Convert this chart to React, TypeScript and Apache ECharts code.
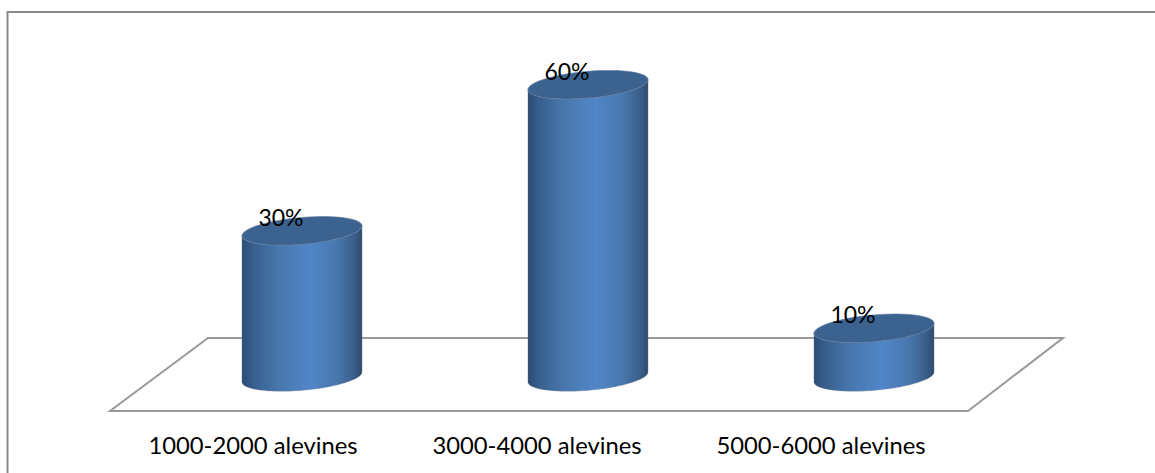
import React, { useEffect, useRef } from "react";
import * as echarts from "echarts";

const categories = ["1000-2000 alevines", "3000-4000 alevines", "5000-6000 alevines"];
const shares = [30, 60, 10];

const WIDTH = 1155;
const HEIGHT = 473;
const FONT = "Lato, 'Open Sans', sans-serif";

// Outline of a cylinder cap: an ellipse sheared so the right side sits higher.
const capPoint = (cx: number, cy: number, a: number, b: number, t: number): number[] => {
  const dx = a * Math.cos(t);
  return [cx + dx, cy + b * Math.sin(t) - dx * 0.083];
};

const capArc = (cx: number, cy: number, a: number, from: number, to: number): number[][] => {
  const b = 13.4;
  const pts: number[][] = [];
  for (let i = 0; i <= 60; i++) {
    pts.push(capPoint(cx, cy, a, b, from + ((to - from) * i) / 60));
  }
  return pts;
};

const renderCylinder = (params: any, api: any) => {
  const value = api.value(1);
  const [cx, topY] = api.coord([api.value(0), value]);
  const [, baseY] = api.coord([api.value(0), 0]);
  const a = api.size([1, 0])[0] * 0.21;

  const body = [
    ...capArc(cx, topY, a, Math.PI, 0),
    ...capArc(cx, baseY, a, 0, Math.PI),
  ];
  const top = capArc(cx, topY, a, 0, Math.PI * 2);

  return {
    type: "group",
    children: [
      {
        type: "polygon",
        shape: { points: body },
        style: {
          fill: new echarts.graphic.LinearGradient(0, 0, 1, 0, [
            { offset: 0, color: "#2c4c74" },
            { offset: 0.1, color: "#38608f" },
            { offset: 0.3, color: "#4877ad" },
            { offset: 0.57, color: "#5186c8" },
            { offset: 0.8, color: "#4776ab" },
            { offset: 0.93, color: "#3b5f8b" },
            { offset: 1, color: "#2e4a6e" },
          ]),
          stroke: "rgba(130,140,150,0.3)",
          lineWidth: 1,
        },
      },
      {
        type: "polygon",
        shape: { points: top },
        style: { fill: "#3c628f", stroke: "rgba(90,120,160,0.6)", lineWidth: 1 },
      },
      {
        type: "text",
        style: {
          text: `${value}%`,
          x: cx - 21,
          y: topY - 14,
          align: "center",
          verticalAlign: "middle",
          fill: "#000000",
          font: `23px ${FONT}`,
        },
      },
    ],
  };
};

export default function App() {
  const ref = useRef<HTMLDivElement>(null);

  useEffect(() => {
    document.body.style.margin = "0";
    const chart = echarts.init(ref.current!, undefined, { renderer: "svg" });
    chart.setOption({
      animation: false,
      backgroundColor: "#ffffff",
      // Front edge of the floor carries the labels; the cylinders stand mid-floor.
      grid: [
        { left: 111, width: 852, top: 36, height: 375 },
        { left: 159, width: 858, top: 36, height: 341 },
      ],
      xAxis: [
        {
          type: "category",
          gridIndex: 0,
          data: categories,
          axisLine: { show: false },
          axisTick: { show: false },
          axisLabel: { color: "#000000", fontFamily: FONT, fontSize: 23.8, margin: 22 },
        },
        { type: "category", gridIndex: 1, data: categories, show: false },
      ],
      yAxis: [
        { type: "value", gridIndex: 0, min: 0, max: 70, show: false },
        { type: "value", gridIndex: 1, min: 0, max: 70, show: false },
      ],
      graphic: [
        {
          type: "polyline",
          z: -1,
          shape: { points: [[7.5, 473], [7.5, 12], [1155, 12]] },
          style: { fill: "none", stroke: "#8a8a8a", lineWidth: 2 },
        },
        {
          type: "polygon",
          z: -1,
          shape: { points: [[208, 338], [1063, 338], [968, 411], [110, 411]] },
          style: { fill: "#ffffff", stroke: "#9a9a9a", lineWidth: 2 },
        },
      ],
      series: [
        {
          type: "custom",
          xAxisIndex: 1,
          yAxisIndex: 1,
          z: 5,
          clip: false,
          renderItem: renderCylinder,
          data: shares.map((v, i) => [i, v]),
        },
      ],
    });
    return () => chart.dispose();
  }, []);

  return <div ref={ref} style={{ width: WIDTH, height: HEIGHT }} />;
}
